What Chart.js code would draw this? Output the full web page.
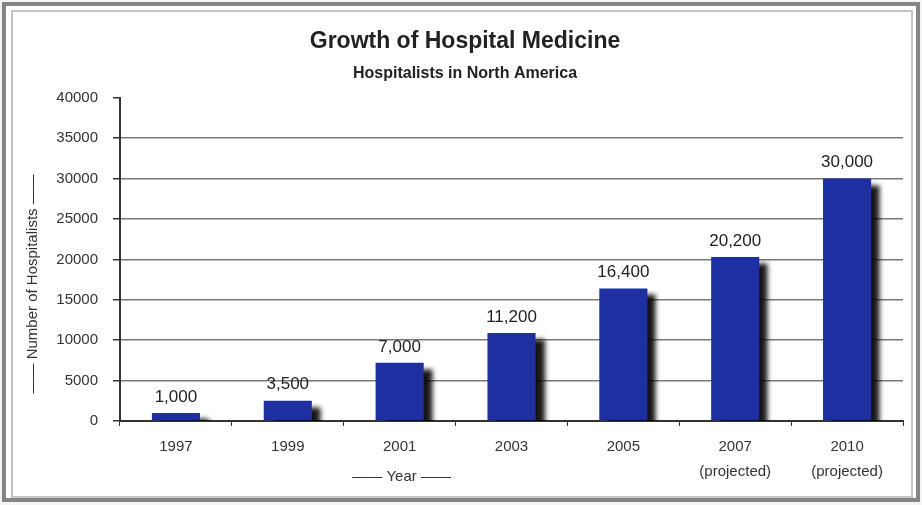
<!DOCTYPE html>
<html>
<head>
<meta charset="utf-8">
<script src="https://cdn.jsdelivr.net/npm/chart.js@4.4.1/dist/chart.umd.min.js"></script>
<style>
  html, body { margin: 0; padding: 0; background: #fff; }
  #wrap { position: relative; width: 922px; height: 505px; overflow: hidden; background: #f4f4f4; }
  #outer { position: absolute; left: 2px; top: 2px; width: 910px; height: 492px; border: 4px solid #858585; background: #fff; }
  #inner { position: absolute; left: 11px; top: 10px; width: 898px; height: 484px; border: 2px solid #c4c4c4; }
  canvas { position: absolute; left: 0; top: 0; }
</style>
</head>
<body>
<div id="wrap">
  <div id="outer"></div>
  <div id="inner"></div>
  <canvas id="hospChart" width="922" height="505"></canvas>
</div>
<script>
// years along the x axis (2007 / 2010 are projections)
var years = [['1997'], ['1999'], ['2001'], ['2003'], ['2005'], ['2007', '(projected)'], ['2010', '(projected)']];
// bar heights as drawn in the picture
var hospitalists = [1000, 2500, 7200, 10900, 16400, 20300, 30000];
// numbers printed above the bars
var valueLabels = ['1,000', '3,500', '7,000', '11,200', '16,400', '20,200', '30,000'];
var yTicks = [0, 5000, 10000, 15000, 20000, 25000, 30000, 35000, 40000];

var FONT = "'Liberation Sans', Arial, sans-serif";

/*=========== shadow behind the bars ===========*/
var barShadow = {
  id: 'barShadow',
  beforeDatasetsDraw(chart) {
    const ctx = chart.ctx;
    ctx.save();
    ctx.shadowColor = 'rgba(0,0,0,0.92)';
    ctx.shadowBlur = 5;
    ctx.shadowOffsetX = 9;
    ctx.shadowOffsetY = 6;
  },
  afterDatasetsDraw(chart) {
    chart.ctx.restore();
  }
};

/*=========== labels above bars + axis titles ===========*/
var extraText = {
  id: 'extraText',
  afterDatasetsDraw(chart) {
    const ctx = chart.ctx;
    const meta = chart.getDatasetMeta(0);
    ctx.save();
    ctx.font = '17px ' + FONT;
    ctx.fillStyle = '#222';
    ctx.textAlign = 'center';
    ctx.textBaseline = 'middle';
    meta.data.forEach(function (bar, i) {
      ctx.fillText(valueLabels[i], bar.x, bar.y - 16);
    });
    ctx.restore();
  },
  afterDraw(chart) {
    const ctx = chart.ctx;
    const x = chart.scales.x;
    ctx.save();
    ctx.font = '15px ' + FONT;
    ctx.fillStyle = '#333';
    ctx.textAlign = 'center';
    ctx.textBaseline = 'middle';
    // x title sits under the 2001 column
    ctx.fillText('\u2014\u2014 Year \u2014\u2014', x.getPixelForValue(2) + 2, 477);
    // y title
    ctx.translate(33, (chart.chartArea.top + 470) / 2);
    ctx.rotate(-Math.PI / 2);
    ctx.fillText('\u2014\u2014 Number of Hospitalists \u2014\u2014', 0, 0);
    ctx.restore();
  }
};

new Chart(document.getElementById('hospChart'), {
  type: 'bar',
  data: {
    labels: years,
    datasets: [{
      label: 'Hospitalists',
      data: hospitalists,
      backgroundColor: '#1e2fa2',
      borderWidth: 0,
      barPercentage: 0.43,
      categoryPercentage: 1.0
    }]
  },
  options: {
    responsive: false,
    animation: false,
    layout: { padding: { left: 27, right: 19, top: 0, bottom: 0 } },
    plugins: {
      legend: { display: false },
      tooltip: { enabled: false },
      title: {
        display: true,
        text: 'Growth of Hospital Medicine',
        color: '#222',
        font: { family: FONT, size: 23, weight: 'bold' },
        padding: { top: 28, bottom: 0 }
      },
      subtitle: {
        display: true,
        text: 'Hospitalists in North America',
        color: '#222',
        font: { family: FONT, size: 16, weight: 'bold' },
        padding: { top: 8.6, bottom: 14.4 }
      }
    },
    scales: {
      x: {
        grid: { display: true, drawOnChartArea: false, drawTicks: true, tickLength: 5, offset: true, color: '#333' },
        border: { display: true, color: '#333', width: 2 },
        ticks: { color: '#333', font: { family: FONT, size: 15, lineHeight: 1.7 }, padding: 8, maxRotation: 0, autoSkip: false },
        afterFit: function (scale) { scale.height = 84; }
      },
      y: {
        min: 0,
        max: 40000,
        afterBuildTicks: function (scale) { scale.ticks = yTicks.map(function (v) { return { value: v }; }); },
        grid: {
          color: function (c) { return c.tick && c.tick.value === 40000 ? 'rgba(0,0,0,0)' : '#7a7a7a'; },
          lineWidth: 1.5,
          tickColor: '#333',
          tickLength: 7
        },
        border: { display: true, color: '#333', width: 2 },
        ticks: {
          color: '#333',
          font: { family: FONT, size: 15 },
          padding: 15,
          callback: function (v) { return String(v); }
        },
        afterFit: function (scale) { scale.width = 93; }
      }
    }
  },
  plugins: [barShadow, extraText]
});
</script>
</body>
</html>
